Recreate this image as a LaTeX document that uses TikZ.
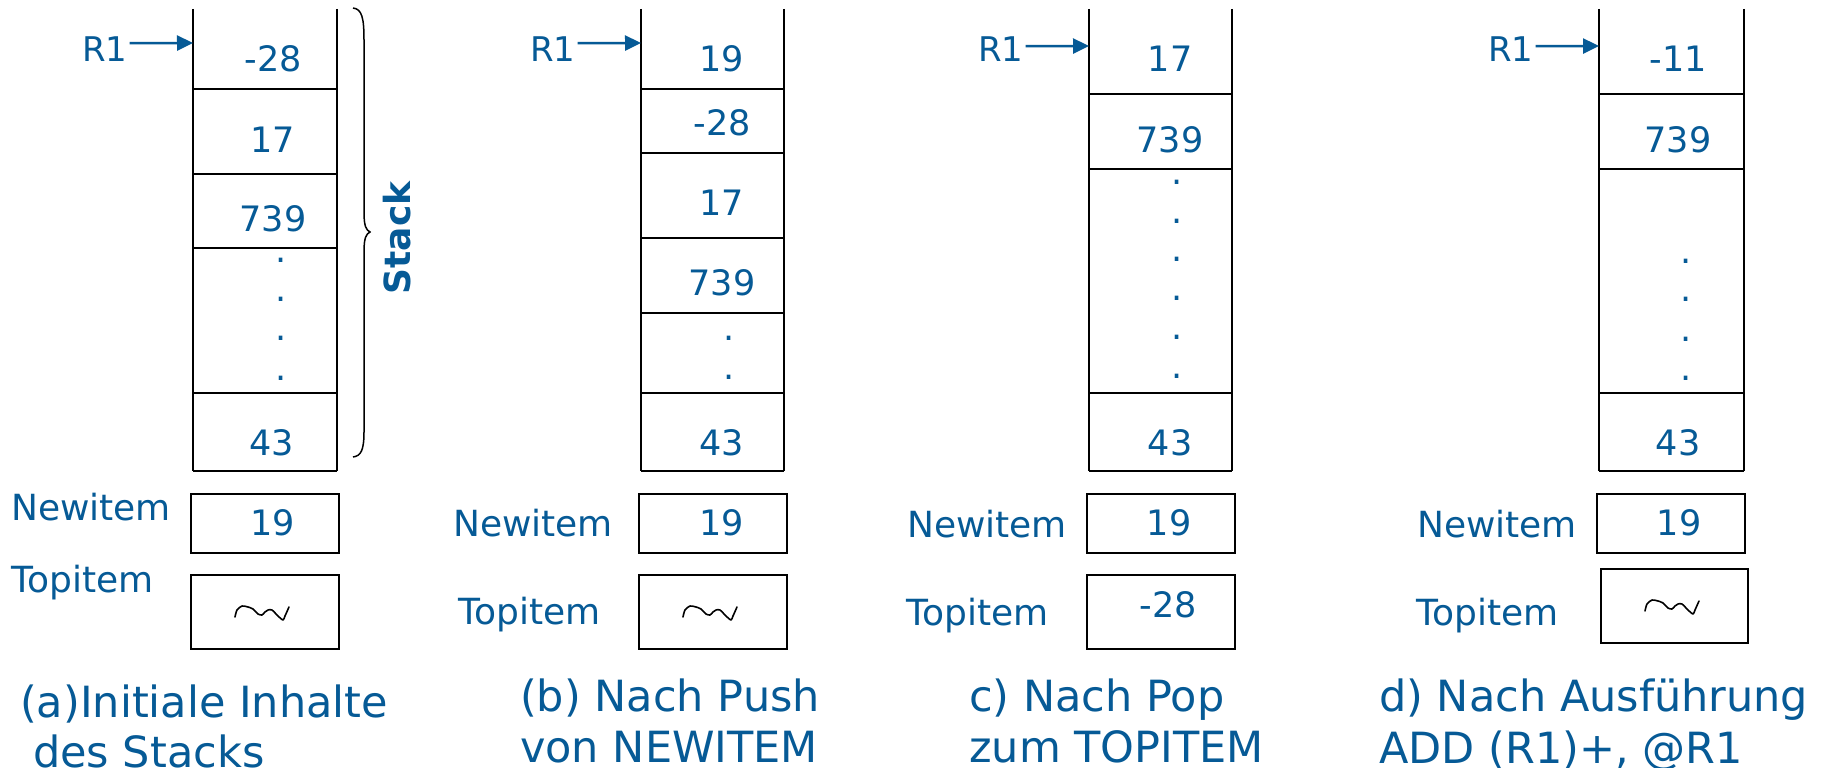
\documentclass[tikz,border=0pt]{standalone}
\usepackage{fontspec}
\setmainfont{DejaVu Sans}
\usetikzlibrary{arrows.meta}
\definecolor{stackblue}{RGB}{6,90,150}

\begin{document}
\begin{tikzpicture}[x=1pt,y=-1pt,
  num/.style={text=stackblue,font=\fontsize{35}{42}\selectfont,inner sep=0pt,anchor=base},
  lab/.style={text=stackblue,font=\fontsize{36}{42}\selectfont,inner sep=0pt,anchor=base west},
  capt/.style={text=stackblue,font=\fontsize{43}{50}\selectfont,inner sep=0pt,anchor=base west},
  reg/.style={text=stackblue,font=\fontsize{34}{42}\selectfont,inner sep=0pt,anchor=base west},
  dotmark/.style={text=stackblue,font=\fontsize{35}{42}\selectfont,inner sep=0pt,anchor=center},
  wall/.style={line width=2pt,draw=black},
  itembox/.style={draw=black,line width=2.2pt,inner sep=0pt,minimum width=148pt},
  ptr/.style={draw=stackblue,line width=2.5pt,-{Triangle[length=16pt,width=15pt]}},
  undef/.pic={\draw[line width=1.6pt,line join=round,line cap=round]
     plot[smooth,tension=0.45] coordinates {(-27,4) (-25,-3) (-20,-7) (-14,-6) (-9,-4) (-4,1) (0,2)
       (3,-1) (6,-3) (10,-3) (16,3) (21,7) (23,3) (27,-6)};}
]
\fill[white] (0,0) rectangle (1821,768);
\useasboundingbox (0,0) rectangle (1821,768);

% ---------------- (a) initial contents ----------------
\draw[wall] (193,9) -- (193,471) (337,9) -- (337,471);
\foreach \y in {89,174,248,393,471} \draw[wall] (193,\y) -- (337,\y);
\node[num] (a1) at (273,72) {-28};
\node[num] (a2) at (273,152) {17};
\node[num] (a3) at (273,231) {739};
\node[num] (a4) at (272,455) {43};
\foreach \y [count=\i] in {260,299,338,378} \node[dotmark] (ad\i) at (281,\y) {.};
\node[reg] (ra) at (82,62) {R1};
\coordinate (pa) at (193,43);
\draw[ptr] ([xshift=2pt,yshift=6.5pt]ra.east) -- (pa);
\draw[line width=1.5pt] (353,8) .. controls (362,9) and (364,18) .. (364,40) -- (364,212)
  .. controls (364,226) and (366,230) .. (370,232)
  .. controls (366,234) and (364,238) .. (364,252) -- (364,432)
  .. controls (364,450) and (361,456) .. (353,457);
\node[text=stackblue,font=\bfseries\fontsize{36}{42}\selectfont,rotate=90,anchor=base,inner sep=0pt] (stk) at (410,238) {Stack};
\node[lab] (nla) at (11,520) {Newitem};
\node[itembox,minimum height=59pt] (nba) at (265,523.5) {};
\node[num] (nva) at (273,535) {19};
\node[lab] (tla) at (11,592) {Topitem};
\node[itembox,minimum height=74pt] (tba) at (265,612) {};
\pic at (262,613) {undef};
\node[capt] (ca1) at (20,717) {(a)Initiale Inhalte};
\node[capt] (ca2) at (33,767) {des Stacks};

% ---------------- (b) after push ----------------
\draw[wall] (641,9) -- (641,471) (784,9) -- (784,471);
\foreach \y in {89,153,238,313,393,471} \draw[wall] (641,\y) -- (784,\y);
\node[num] (b1) at (722,71) {19};
\node[num] (b2) at (722,135) {-28};
\node[num] (b3) at (722,215) {17};
\node[num] (b4) at (722,295) {739};
\node[num] (b5) at (722,455) {43};
\foreach \y [count=\i] in {338,377} \node[dotmark] (bd\i) at (729,\y) {.};
\node[reg] (rb) at (530,62) {R1};
\coordinate (pb) at (641,43);
\draw[ptr] ([xshift=2pt,yshift=6.5pt]rb.east) -- (pb);
\node[lab] (nlb) at (453,536) {Newitem};
\node[itembox,minimum height=59pt] (nbb) at (713,523.5) {};
\node[num] (nvb) at (722,535) {19};
\node[lab] (tlb) at (458,624) {Topitem};
\node[itembox,minimum height=74pt] (tbb) at (713,612) {};
\pic at (710,613) {undef};
\node[capt] (cb1) at (520,711) {(b) Nach Push};
\node[capt] (cb2) at (520,762) {von NEWITEM};

% ---------------- (c) after pop ----------------
\draw[wall] (1089,9) -- (1089,471) (1232,9) -- (1232,471);
\foreach \y in {94,169,393,471} \draw[wall] (1089,\y) -- (1232,\y);
\node[num] (c1) at (1170,71) {17};
\node[num] (c2) at (1170,152) {739};
\node[num] (c3) at (1170,455) {43};
\foreach \y [count=\i] in {182,221,259,298,337,376} \node[dotmark] (cd\i) at (1177,\y) {.};
\node[reg] (rc) at (978,62) {R1};
\coordinate (pc) at (1089,46);
\draw[ptr] ([xshift=2pt,yshift=3.5pt]rc.east) -- (pc);
\node[lab] (nlc) at (907,537) {Newitem};
\node[itembox,minimum height=59pt] (nbc) at (1161,523.5) {};
\node[num] (nvc) at (1169,535) {19};
\node[lab] (tlc) at (906,625) {Topitem};
\node[itembox,minimum height=74pt] (tbc) at (1161,612) {};
\node[num] (tvc) at (1168,617) {-28};
\node[capt] (cc1) at (969,711) {c) Nach Pop};
\node[capt] (cc2) at (969,762) {zum TOPITEM};

% ---------------- (d) after ADD (R1)+, @R1 ----------------
\draw[wall] (1599,9) -- (1599,471) (1744,9) -- (1744,471);
\foreach \y in {94,169,393,471} \draw[wall] (1599,\y) -- (1744,\y);
\node[num] (d1) at (1678,71) {-11};
\node[num] (d2) at (1678,152) {739};
\node[num] (d3) at (1678,455) {43};
\foreach \y [count=\i] in {261,299,339,378} \node[dotmark] (dd\i) at (1686,\y) {.};
\node[reg] (rd) at (1488,62) {R1};
\coordinate (pd) at (1599,46);
\draw[ptr] ([xshift=2pt,yshift=3.5pt]rd.east) -- (pd);
\node[lab] (nld) at (1417,537) {Newitem};
\node[itembox,minimum height=59pt] (nbd) at (1671,523.5) {};
\node[num] (nvd) at (1679,535) {19};
\node[lab] (tld) at (1416,625) {Topitem};
\node[itembox,minimum height=74pt,minimum width=147pt] (tbd) at (1674.5,606) {};
\pic at (1672,607) {undef};
\node[capt] (cd1) at (1379,711) {d) Nach Ausführung};
\node[capt] (cd2) at (1379,763) {ADD (R1)+, @R1};
\end{tikzpicture}
\end{document}
